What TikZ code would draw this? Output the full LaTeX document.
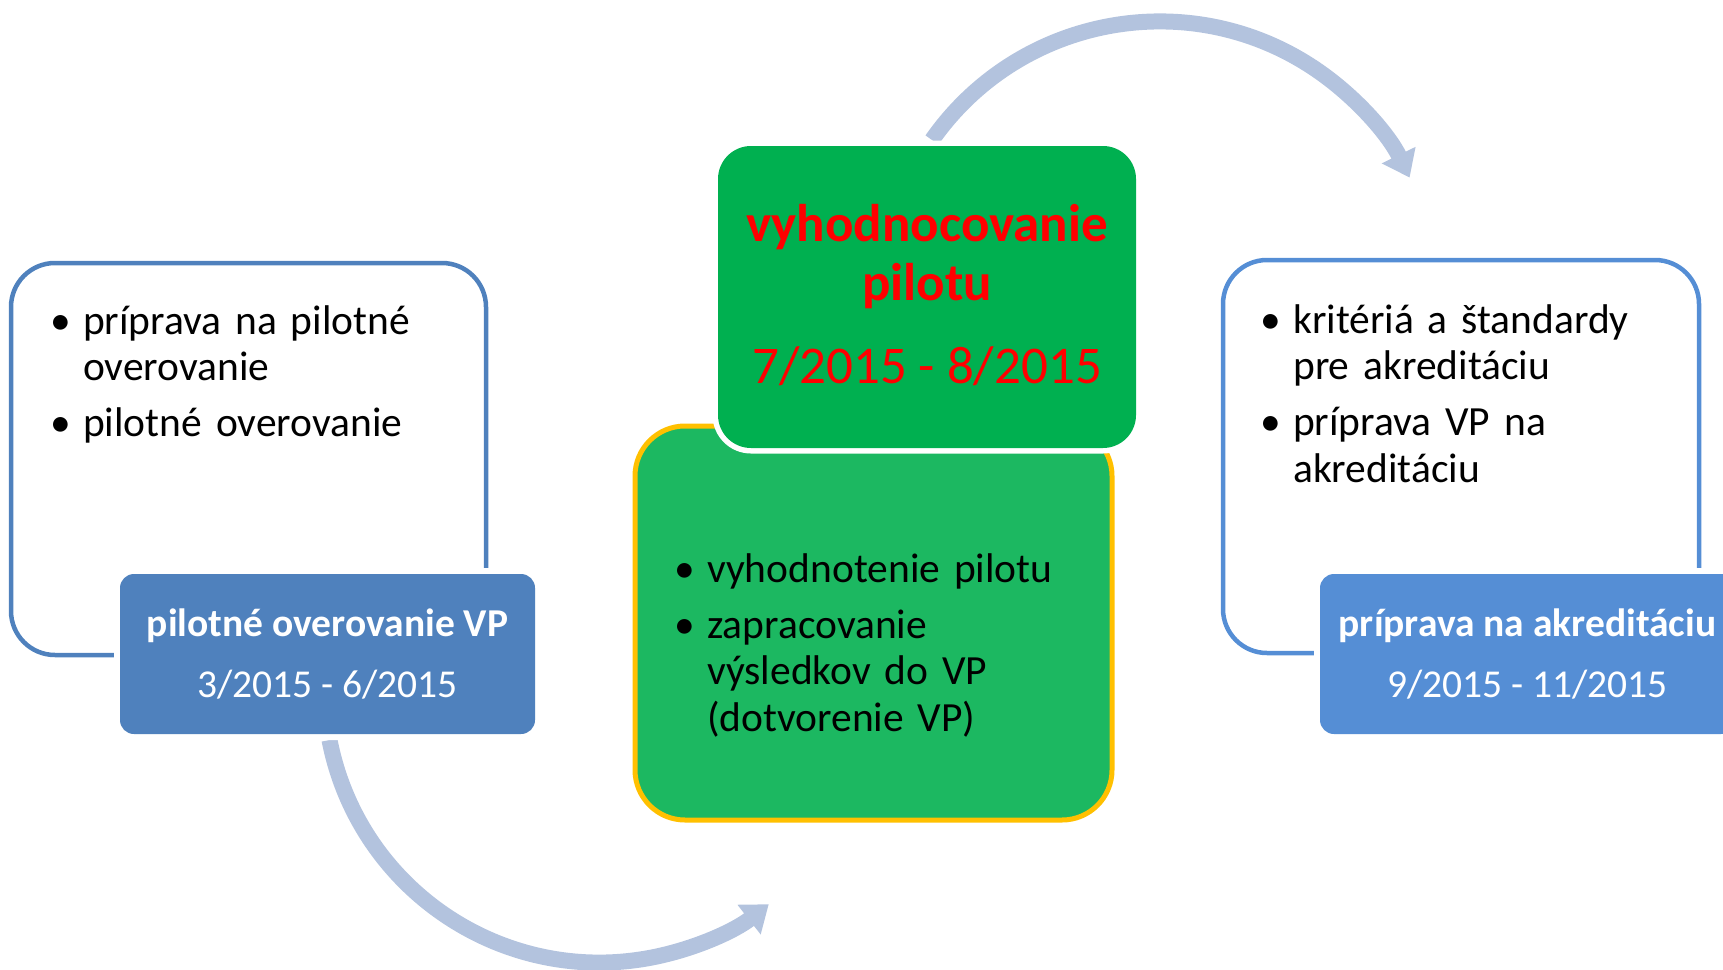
\documentclass[tikz,border=0pt]{standalone}
\usepackage{fontspec}
\setmainfont{Carlito}
\usetikzlibrary{arrows.meta,positioning}
\definecolor{frameblue}{HTML}{4F81BD}
\definecolor{skyblue}{HTML}{558ED5}
\definecolor{pilotgreen}{HTML}{00B050}
\definecolor{resultgreen}{HTML}{1CB861}
\definecolor{goldline}{HTML}{FFC000}
\definecolor{flowgrey}{HTML}{B3C3DE}
\newcommand{\bitem}[1]{\setlength{\parskip}{9.5pt}\noindent\hangindent=33pt\hangafter=1\makebox[33pt][l]{\textbullet}#1\par}
\tikzstyle{frame} = [rectangle, rounded corners=44pt, line width=4.5pt, inner sep=0pt]
\tikzstyle{tag} = [rectangle, rounded corners=14pt, inner sep=0pt, minimum width=415pt, minimum height=160pt, preaction={draw=white, line width=12pt}]
\tikzstyle{stage} = [rectangle, inner sep=0pt]
\tikzstyle{bullets} = [anchor=base west, inner sep=0pt, text width=480pt, align=left, font=\fontsize{41.5}{46.5}\selectfont]
\tikzstyle{tagtitle} = [anchor=base, inner sep=0pt, text=white, font=\fontsize{39.5}{47}\selectfont\bfseries]
\tikzstyle{tagdate} = [anchor=base, inner sep=0pt, text=white, font=\fontsize{39.5}{47}\selectfont]
\tikzstyle{redtitle} = [anchor=base, inner sep=0pt, text=red, font=\fontsize{53}{58}\selectfont\bfseries]
\tikzstyle{reddate} = [anchor=base, inner sep=0pt, text=red, font=\fontsize{53}{58}\selectfont]
\tikzstyle{flow} = [line width=16pt, draw=flowgrey, -{Triangle[width=36pt,length=25pt]}]
\begin{document}
\begin{tikzpicture}[x=1pt, y=-1pt]
    \useasboundingbox (0,0) rectangle (1723,969);
    \coordinate (flowA) at (329.5,740);
    \coordinate (flowB) at (932,140);
    \draw [flow] (flowA) arc [start angle=191, end angle=308, radius=275pt];
    \draw [flow] (flowB) arc [start angle=145, end angle=26, radius=278pt];

    \node (lframe) [frame, draw=frameblue, minimum width=475pt, minimum height=392pt] at (248.5,459) {};
    \node (ltag) [tag, fill=frameblue] at (327.5,654) {};
    \node (ltitle) [tagtitle] at (327.5,636) {pilotné overovanie VP};
    \node (ldate) [tagdate] at (327.5,697) {3/2015 - 6/2015};
    \node (lnotes) [bullets] at (50,334) {\bitem{príprava na pilotné\newline overovanie}\bitem{pilotné overovanie}};

    \node (result) [stage, rounded corners=50pt, fill=resultgreen, draw=goldline, line width=5pt, minimum width=477pt, minimum height=394pt] at (873.5,623) {};
    \node (eval) [stage, rounded corners=33pt, fill=pilotgreen, preaction={draw=white, line width=11pt}, minimum width=418pt, minimum height=302pt] at (927,297) {};
    \node (evaltitle) [redtitle] at (927,241) {vyhodnocovanie};
    \node (evalsub) [redtitle] at (927,300) {pilotu};
    \node (evaldate) [reddate] at (927,383) {7/2015 - 8/2015};
    \node (cnotes) [bullets] at (674,582) {\bitem{vyhodnotenie pilotu}\bitem{zapracovanie\newline výsledkov do VP\newline (dotvorenie VP)}};

    \node (rframe) [frame, draw=skyblue, minimum width=476pt, minimum height=393pt] at (1461,456.5) {};
    \node (rtag) [tag, fill=skyblue] at (1527.5,654) {};
    \node (rtitle) [tagtitle] at (1527.5,636) {príprava na akreditáciu};
    \node (rdate) [tagdate] at (1527.5,697) {9/2015 - 11/2015};
    \node (rnotes) [bullets] at (1260,333) {\bitem{kritériá a štandardy\newline pre akreditáciu}\bitem{príprava VP na\newline akreditáciu}};
\end{tikzpicture}
\end{document}
